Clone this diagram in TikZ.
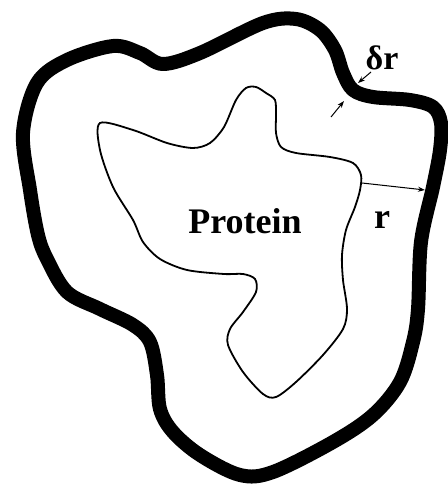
\documentclass[tikz,border=0pt]{standalone}
\usepackage{fontspec}
\setmainfont{Liberation Serif}
\usetikzlibrary{arrows.meta}
\begin{document}
\begin{tikzpicture}[x=1pt,y=-1pt,
  outerline/.style={line width=14pt,line join=round},
  innerline/.style={line width=1.8pt},
  lbl/.style={font=\bfseries\fontsize{36}{40}\selectfont,inner sep=0pt},
  dim/.style={line width=1pt,-{Stealth[length=7pt,width=5pt]}}]
\useasboundingbox (0,0) rectangle (447,484);
% outer (solvation) boundary
\draw[outerline] plot[smooth cycle,tension=0.55] coordinates {
 (37,83) (67,60) (113,46) (140,53) (163,64) (200,53) (263,23) (296,19)
 (320,30) (335,50) (343,73) (353,90) (373,97) (410,100) (433,107) (441,123)
 (440,150) (433,187) (421,242) (418,309) (413,342) (400,382) (373,415)
 (333,442) (273,472) (240,475) (200,455) (173,432) (160,409) (157,375)
 (150,342) (133,325) (100,309) (67,292) (47,259) (38,235) (30,190) (23,133)};
% protein boundary
\draw[innerline] plot[smooth cycle,tension=0.5] coordinates {
 (100,123) (133,130) (167,143) (193,148) (210,143) (224,127) (236,100)
 (246,88) (256,87) (266,93) (275,100) (276,115) (276,133) (281,147)
 (296,153) (330,157) (353,163) (361,175) (360,190) (355,207) (346,230)
 (342,255) (343,280) (347,309) (343,329) (323,355) (296,382) (276,397)
 (263,394) (243,372) (228,345) (230,329) (243,312) (256,292) (255,279)
 (243,274) (224,274) (187,270) (160,259) (143,242) (133,220) (113,187)
 (100,150)};
\node[lbl] (protein) at (245,221) {Protein};
\node[lbl] (r) at (382,220) {r};
\node[lbl,font=\bfseries\fontsize{34}{38}\selectfont] (dr) at (382,58) {δr};
\coordinate (rs) at (362,183);
\coordinate (re) at (425,190);
\draw[dim] (rs) -- (re);
\coordinate (d1s) at (371,72);
\coordinate (d1e) at (358,83);
\draw[dim] (d1s) -- (d1e);
\coordinate (d2s) at (331,117);
\coordinate (d2e) at (344,101);
\draw[dim] (d2s) -- (d2e);
\end{tikzpicture}
\end{document}
